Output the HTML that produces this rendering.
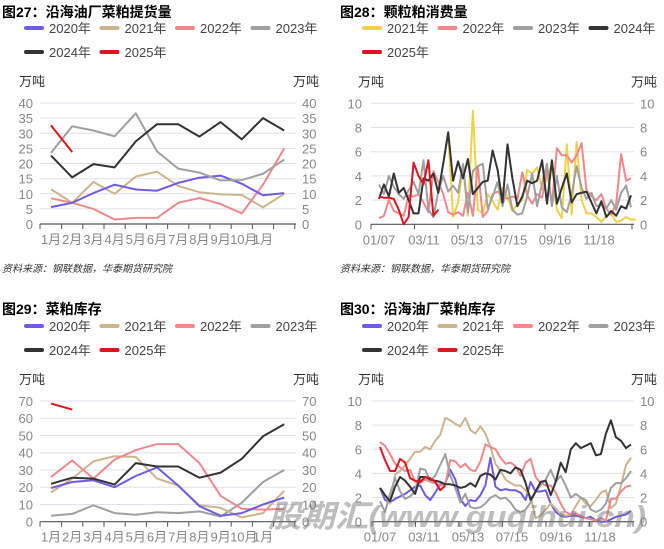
<!DOCTYPE html>
<html><head><meta charset="utf-8"><style>
body{margin:0;background:#fff;width:664px;height:549px;overflow:hidden}
svg{display:block}
text{font-family:"Liberation Sans","Noto Sans CJK SC",sans-serif}
</style></head><body>
<svg id="s" width="664" height="549" xmlns="http://www.w3.org/2000/svg"></svg>
<script>
const S=document.getElementById('s');let h='';
const C={b:'#6f5ce6',t:'#cdb48c',p:'#f2878c',g:'#a0a0a0',k:'#333333',r:'#e0141e',y:'#f0d24a'};
function T(x,y,s,o){o=o||{};h+=`<text x="${x}" y="${y}" font-size="${o.fs||12}" fill="${o.c||'#888'}" ${o.a?`text-anchor="${o.a}"`:''} ${o.w?`font-weight="${o.w}"`:''} ${o.i?'font-style="italic"':''}>${s}</text>`;}
function legend(ox,oy,items){items.forEach((it,i)=>{const r=i<4?0:1,c=i%4;const x=ox+c*75.5,y=oy+r*24;h+=`<rect x="${x}" y="${y-2}" width="20" height="4" rx="2" fill="${it[0]}"/>`;T(x+25,y+5,it[1],{fs:13,c:'#444'});});}
function panel(o){
 const {x0,x1,y0,yt,max,step,lx,rx}=o;const k=(y0-yt)/max;
 for(let v=0;v<=max;v+=step){const y=y0-v*k;if(v>0)h+=`<line x1="${x0}" x2="${x1}" y1="${y}" y2="${y}" stroke="#e0e0ec" stroke-width="1"/>`;T(lx,y+5,v,{fs:13,a:'end'});T(rx,y+5,v,{fs:13});}
 h+=`<line x1="${x0}" x2="${x1}" y1="${y0}" y2="${y0}" stroke="#555" stroke-width="1.2"/>`;
 o.ticks.forEach(t=>h+=`<line x1="${t}" x2="${t}" y1="${y0}" y2="${y0+5}" stroke="#555"/>`);
 o.xl.forEach(l=>T(l[0],y0+20,l[1],{fs:13,a:'middle'}));
 T(o.wl,yt-17,'万吨',{fs:13,c:'#333'});T(o.wr,yt-17,'万吨',{fs:13,c:'#333'});
 o.series.forEach(sr=>{const [col,st,d]=sr;const pts=d.map((v,i)=>`${(o.px0+(st+i)*o.dx).toFixed(1)},${(y0-v*k).toFixed(1)}`);h+=`<polyline points="${pts.join(' ')}" fill="none" stroke="${col}" stroke-width="2" stroke-linejoin="round"/>`;});
}
const mlab=['1月','2月','3月','4月','5月','6月','7月','8月','9月','10月','1月'].map((s,i)=>[51+i*21.2+(i==9?2:0),s]);
const mt=[40];for(let i=0;i<12;i++)mt.push(61.6+i*21.2);
// Panel 27
T(2,17,'图27：沿海油厂菜粕提货量',{fs:14,c:'#000',w:'bold'});
legend(24,28,[[C.b,'2020年'],[C.t,'2021年'],[C.p,'2022年'],[C.g,'2023年'],[C.k,'2024年'],[C.r,'2025年']]);
panel({x0:40,x1:296,y0:224,yt:103,max:40,step:5,lx:33,rx:302,wl:19,wr:293,ticks:mt,xl:mlab,px0:51,dx:21.2,series:[
[C.t,0,[11.5,7,13.9,10,15.7,17.3,12.6,10.5,9.8,9.6,5.5,10]],
[C.p,0,[8.5,7,5,1.5,2,2,7,8.6,6.6,3.5,13,25]],
[C.b,0,[5.6,7,10.2,13,11.4,11,13.6,15.3,16,13.3,9.5,10.2]],
[C.g,0,[23.5,32.3,30.9,29,36.6,24,18.3,17,14.4,14.5,16.6,21.3]],
[C.k,0,[22.6,15.4,19.8,18.7,27.3,33,33,28.9,33.7,28,35,30.9]],
[C.r,0,[32.6,23.8]]]});
T(2,272,'资料来源：钢联数据，华泰期货研究院',{fs:10,c:'#333',i:1});
// Panel 28
T(340,17,'图28：颗粒粕消费量',{fs:14,c:'#000',w:'bold'});
legend(362,28,[[C.y,'2021年'],[C.p,'2022年'],[C.g,'2023年'],[C.k,'2024年'],[C.r,'2025年']]);
const wx0=379,wdx=(631-379)/51;
const wt=[];for(let i=0;i<=7;i++)wt.push(371+i*43.5);
panel({x0:371,x1:634,y0:224.3,yt:103.3,max:10,step:2,lx:362,rx:640,wl:358,wr:631,ticks:wt,xl:[[379,'01/07'],[424,'03/11'],[467,'05/13'],[511,'07/15'],[555,'09/16'],[599,'11/18']],px0:wx0,dx:wdx,series:[
[C.y,14,[7.5,0.6,1.8,4.8,0.7,9.4,1.2,0.9,2.5,1.9,1.2,3,2.3,1.1,1.7,2,4.5,4.2,4.7,2.9,3.8,5,1.2,0.5,6.6,0.8,6.8,2,0.9,0.9,0.6,0.2,0.7,0.9,0.2,0.3,0.6,0.4,0.4]],
[C.p,0,[0.5,0.7,2,1.1,0.9,0.7,2.4,2.3,2.5,1.8,1,4.4,3.5,2.5,1,0.8,1,0.7,2.6,0.7,4.8,0.6,1.1,2.5,2.7,2.3,2.1,2.3,2.1,4.3,2.4,1.7,2.5,2.2,4.5,1.6,6.3,5.7,5.7,5.1,5.7,6.7,2.8,2.3,2,2.5,1.3,0.8,1.7,5.8,3.6,3.8]],
[C.g,0,[3.3,2.5,4,3.1,2.5,2.1,2.8,3.5,2.5,5.3,1.2,0.6,2.7,4,2.7,3.2,2.6,5,1,4.4,4.8,5,1.3,2.3,3.5,1.5,3.3,1.2,0.8,0.9,2.3,4.2,1.5,3.4,5,1.5,4,1.4,1,2.5,4.8,3,2.1,2.6,1.5,1.6,1.3,2,1.2,2.6,3.2,1.4]],
[C.k,0,[2.1,3.3,2.3,4.2,2.6,3,2,0.9,0.9,3.8,3.6,4.2,2.6,5,7.6,3.6,5.2,3.8,5.4,2.5,3,3.5,3.6,6.1,4.5,1.8,6.6,3.8,1.5,2.3,3.6,3.4,3.6,5.3,1.7,5.3,1.7,3,4.2,1.8,2.5,2.6,2.7,1.8,0.9,1.9,0.6,1.1,0.7,1.5,1.3,2.4,2.3].slice(0,52)],
[C.r,0,[2.3,2.2,2.2,2.1,1.2,0,0.6,5.1,4,3.3,5.3,0.7,1.2]]]});
T(340,272,'资料来源：钢联数据，华泰期货研究院',{fs:10,c:'#333',i:1});
// Panel 29
T(2,314,'图29：菜粕库存',{fs:14,c:'#000',w:'bold'});
legend(24,326,[[C.b,'2020年'],[C.t,'2021年'],[C.p,'2022年'],[C.g,'2023年'],[C.k,'2024年'],[C.r,'2025年']]);
panel({x0:40,x1:296,y0:521.7,yt:401,max:70,step:10,lx:33,rx:302,wl:19,wr:293,ticks:mt,xl:mlab,px0:51,dx:21.2,series:[
[C.g,0,[3.5,4.5,9.5,5,4,5.5,5,6,3,11,23,30]],
[C.t,0,[17,25,35,38,37.5,25,21,9.5,8,2.5,5,18]],
[C.p,0,[26,35.5,25,36,41.5,45,45,34,15,7.5,7,7.5]],
[C.b,0,[19.5,23,24,20,26.5,31.5,21,9,3.5,5,10,14]],
[C.k,0,[22,25.5,25,21.5,34,32,32,25.5,28.5,36.5,49.5,56.5]],
[C.r,0,[68.5,65]]]});
// Panel 30
T(340,314,'图30：沿海油厂菜粕库存',{fs:14,c:'#000',w:'bold'});
legend(362,326,[[C.b,'2020年'],[C.t,'2021年'],[C.p,'2022年'],[C.g,'2023年'],[C.k,'2024年'],[C.r,'2025年']]);
const vx0=380,vdx=(631-380)/50;
panel({x0:372,x1:634,y0:521.7,yt:401,max:10,step:2,lx:362,rx:640,wl:358,wr:631,ticks:wt.map(t=>t+1),xl:[[380,'01/07'],[424,'03/11'],[468,'05/13'],[512,'07/15'],[556,'09/16'],[600,'11/18']],px0:vx0,dx:vdx,series:[
[C.b,0,[2.8,1.8,1.6,1.9,2.1,2.3,2.6,2.9,3,2.2,1.8,2.4,3.1,3.2,4.3,3.5,1.9,1.3,1.8,1.7,2.2,3,5.3,2.9,2.6,2.7,2.6,2.6,2.4,1.8,3.3,2.5,2.5,2.6,1.5,0.8,0.5,0.4,0.5,0.5,0.4,0.3,0.4,0.1,0,0,0.2,0.4,0.5,0.6,0.9,1.8].slice(0,51)],
[C.t,0,[2.8,2.2,1.5,3.9,4.2,4.7,5.2,5.8,5.8,6.2,6,6.7,7.2,8.6,8.4,8.1,7.9,8.6,7.6,7.3,7.9,7.3,6.2,4.8,4.2,3.5,3.2,3,3,2.6,2.1,0.3,0.5,1,1.5,1.1,0.6,0.5,0.6,1.3,2,1.5,1.3,1.8,2.4,2.6,1.1,1.5,3,4.7,5.3]],
[C.p,0,[6.6,6.3,5.6,4.8,4.5,4.2,4.3,3.3,3.2,3.5,3.3,3.2,3,3.1,5.1,5,4.5,4.8,4.3,4.2,5,6.4,6.2,6,5.3,4.8,4.9,4.6,3.8,4.9,5.2,3.7,3.2,3,3,2.4,1.5,0.8,0.6,0.7,0.5,0.3,0.2,0.1,0.3,0.1,1.9,1.9,2.5,2.9,3]],
[C.g,0,[1.7,0.8,2.3,3.6,2.5,1.9,2.1,2.5,4.4,4.3,3.4,3.8,4.7,5.6,3.8,2.8,1.6,2.3,1.2,1.1,1.2,1.5,2,2.2,1.9,2,1.6,1,0.8,1,1.6,2.5,3,3.5,4.3,3.3,3.8,3,2,2.3,2,1.8,1,0.8,1,1.5,2.8,3.2,3.2,3.6,4.2]],
[C.k,0,[2.8,2.2,1.7,2.9,3.7,3.4,2.9,2.3,3.7,3.7,3.5,3.4,3.3,3.1,3.1,3,2.8,2.9,3.2,2.9,3.8,4,3.9,3.5,4.3,4.2,4,4.5,4.3,3.2,1.8,2.5,3.3,3.4,2.2,3.3,4.9,4.1,6,6.5,6.1,6.3,6.5,5.5,5.6,7.3,8.4,7,6.7,6.1,6.4]],
[C.r,0,[6.2,5.1,4.2,4.2,5.2,4.9,3.6,3.4,3.3,3.7,3.6,3.3,2.6,3]]]});
h+=`<text x="268" y="527" font-size="31" font-weight="bold" font-style="italic" fill="rgba(110,110,110,0.45)" textLength="378" lengthAdjust="spacingAndGlyphs" font-family="Liberation Sans,Noto Sans CJK SC,sans-serif">股期汇(www.guqihui.cn)</text>`;
S.innerHTML=h;
</script>
</body></html>
